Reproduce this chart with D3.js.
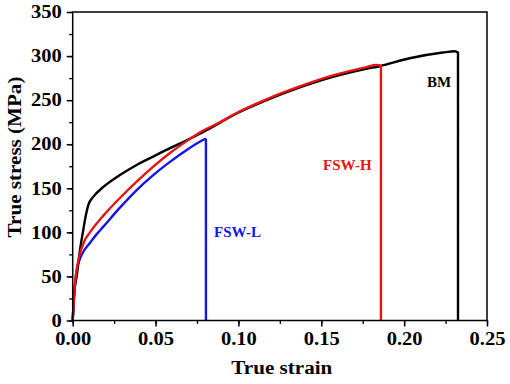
<!DOCTYPE html>
<html><head><meta charset="utf-8">
<script src="https://cdn.jsdelivr.net/npm/d3@7"></script>
<style>
html,body{margin:0;padding:0;background:#fff;}
svg text{font-family:"Liberation Serif","Times New Roman",serif;font-weight:bold;}
</style></head>
<body>
<svg id="chart" width="510" height="384"></svg>
<script>
// ---- data ----
const bmStrain   = [0,0.0006,0.0012,0.0024,0.0044,0.0064,0.008,0.0094,0.0125,0.0185,0.0285,0.0386,0.0486,0.0587,0.0688,0.0788,0.089,0.0969,0.117,0.137,0.157,0.177,0.1852,0.2033,0.2234,0.2306,0.2325,0.2325];
const bmStress   = [0,20,36,50,80,103,120,131,140.5,151.5,165,176.5,186,195.5,204.5,214,224.5,233,250,264.5,276.5,285.5,288.5,297.5,304,305.5,304,0];
const fswHStrain = [0,0.0006,0.0014,0.0028,0.0044,0.007,0.0104,0.0185,0.0285,0.0386,0.0486,0.0587,0.0688,0.0788,0.089,0.0969,0.117,0.137,0.157,0.1772,0.1833,0.186,0.186];
const fswHStress = [0,20,42,62,76,90,100,119,139,157.5,174.5,190,203.5,215.5,225,233.5,251,265.5,278,287.5,290,289,0];
const fswLStrain = [0,0.0004,0.0014,0.0028,0.0044,0.0064,0.0104,0.0145,0.0185,0.0285,0.0386,0.0486,0.0587,0.0688,0.0788,0.0798,0.0804,0.0804];
const fswLStress = [0,16,42,61,70,78,88,98,106.5,128,148,165,180,193.5,205,206,205,0];
const xTicks = [0,0.05,0.10,0.15,0.20,0.25];
const yTicks = [0,50,100,150,200,250,300,350];
const seriesNames = ["BM","FSW-H","FSW-L"];

const svg = d3.select("#chart");
const L = 72.7, T = 12, R = 487, B = 320.5;
const x = d3.scaleLinear().domain([0,0.25]).range([L,R]);
const y = d3.scaleLinear().domain([0,350]).range([B,T]);

// minor ticks
svg.append("g").attr("transform",`translate(0,${B})`)
  .call(d3.axisBottom(x).tickValues(d3.range(0,0.2501,0.025)).tickSize(3.5).tickFormat("").tickSizeOuter(0))
  .call(g=>g.select(".domain").remove())
  .call(g=>g.selectAll("line").attr("stroke","#000").attr("stroke-width",1.3));
svg.append("g").attr("transform",`translate(${L},0)`)
  .call(d3.axisLeft(y).tickValues(d3.range(0,351,25)).tickSize(3.5).tickFormat("").tickSizeOuter(0))
  .call(g=>g.select(".domain").remove())
  .call(g=>g.selectAll("line").attr("stroke","#000").attr("stroke-width",1.3));

// major axes
const xAx = svg.append("g").attr("transform",`translate(0,${B})`)
  .call(d3.axisBottom(x).tickValues(xTicks).tickSize(6).tickPadding(6).tickSizeOuter(0).tickFormat(d3.format(".2f")));
const yAx = svg.append("g").attr("transform",`translate(${L},0)`)
  .call(d3.axisLeft(y).tickValues(yTicks).tickSize(6).tickPadding(5).tickSizeOuter(0));
[xAx,yAx].forEach(g=>{
  g.select(".domain").remove();
  g.selectAll("line").attr("stroke","#000").attr("stroke-width",1.5);
  g.selectAll("text").attr("fill","#000").style("font-size","18px").attr("class","stretch");
});

// curves: smooth rising part, then the vertical fracture drop
const smooth = d3.line().x(d=>x(d[0])).y(d=>y(d[1])).curve(d3.curveMonotoneX);
const series = [
  {name:"FSW-L", sx:fswLStrain, sy:fswLStress, color:"#1414ee"},
  {name:"BM",    sx:bmStrain,   sy:bmStress,   color:"#000000"},
  {name:"FSW-H", sx:fswHStrain, sy:fswHStress, color:"#e81414"}
];
series.forEach(s=>{
  const pts = s.sx.map((v,i)=>[v,s.sy[i]]);
  const rising = pts.slice(0,-1);
  const last = pts[pts.length-1];
  const d = smooth(rising) + `L${x(last[0])},${y(last[1])}`;
  svg.append("path").attr("d",d).attr("fill","none").attr("stroke",s.color)
    .attr("stroke-width",2.4).attr("stroke-linejoin","round");
});

// frame
svg.append("rect").attr("x",L).attr("y",T).attr("width",R-L).attr("height",B-T)
  .attr("fill","none").attr("stroke","#000").attr("stroke-width",1.5);

// labels
svg.append("text").attr("x",427).attr("y",86.5).attr("fill","#000").style("font-size","15px").text(seriesNames[0]);
svg.append("text").attr("x",323).attr("y",170).attr("fill","#e81414").style("font-size","15px").text(seriesNames[1]);
svg.append("text").attr("x",214).attr("y",236.5).attr("fill","#1414ee").style("font-size","15px").text(seriesNames[2]);

// axis titles
svg.append("text").attr("class","stretch").attr("x",(L+R)/2+2).attr("y",374).attr("text-anchor","middle")
  .style("font-size","18.5px").attr("fill","#000").text("True strain");
svg.append("text").attr("class","stretch").attr("transform","translate(21,157) rotate(-90)").attr("text-anchor","middle")
  .style("font-size","18.5px").attr("fill","#000").text("True stress (MPa)");

// horizontal widening to match the reference typeface proportions
svg.selectAll("text.stretch").each(function(){
  const w = this.getComputedTextLength();
  d3.select(this).attr("textLength", w*1.14).attr("lengthAdjust","spacingAndGlyphs");
});
</script>
</body></html>
